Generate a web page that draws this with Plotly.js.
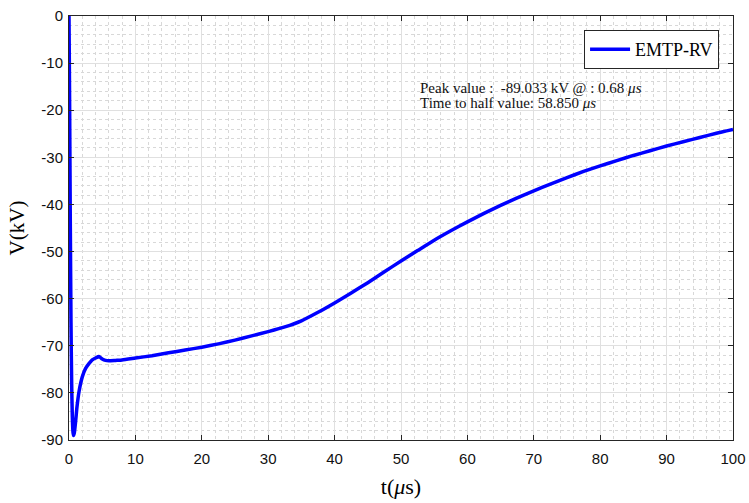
<!DOCTYPE html>
<html>
<head>
<meta charset="utf-8">
<script src="https://cdn.plot.ly/plotly-3.0.1.min.js"></script>
<style>html,body{margin:0;padding:0;background:#fff;}#chart{width:749px;height:503px;}</style>
</head>
<body>
<div id="chart"></div>
<script>
const timeUs = [0, 0.1, 0.2, 0.3, 0.4, 0.5, 0.6, 0.68, 0.8, 1.0, 1.2, 1.5, 2.0, 2.5, 3.0, 3.5, 4.0, 4.5, 5.0, 5.5, 6.0, 7.0, 8.0, 10, 12.5, 15, 17.5, 20, 22.5, 25, 27.5, 30, 32.5, 35, 37.5, 40, 42.5, 45, 47.5, 50, 52.5, 55, 57.5, 60, 62.5, 65, 67.5, 70, 72.5, 75, 77.5, 80, 82.5, 85, 87.5, 90, 92.5, 95, 97.5, 100];
const voltageKV = [0, -20, -45, -65, -78, -85, -88.3, -89.033, -88.5, -86, -83, -79.8, -76.6, -74.8, -73.8, -73.0, -72.6, -72.3, -72.8, -73.1, -73.2, -73.1, -73.0, -72.6, -72.1, -71.5, -70.9, -70.3, -69.6, -68.8, -67.9, -67.0, -66.0, -64.7, -62.9, -60.9, -58.8, -56.6, -54.3, -52.0, -49.8, -47.6, -45.6, -43.7, -41.9, -40.2, -38.6, -37.1, -35.7, -34.3, -33.0, -31.8, -30.7, -29.6, -28.6, -27.6, -26.7, -25.8, -24.9, -24.1];
const seriesName = 'EMTP-RV';
const xTicks = [0, 10, 20, 30, 40, 50, 60, 70, 80, 90, 100];
const yTicks = [-90, -80, -70, -60, -50, -40, -30, -20, -10, 0];
const noteLines = ['Peak value :  -89.033 kV @ : 0.68 <i>μs</i>', 'Time to half value: 58.850 <i>μs</i>'];

const serif = 'Liberation Serif, Times New Roman, serif';
const axisCommon = {
  showline: true, linecolor: '#262626', linewidth: 1, mirror: 'ticks',
  ticks: 'inside', ticklen: 5, tickcolor: '#262626', tickwidth: 1,
  showgrid: true, gridcolor: '#e0e0e0', gridwidth: 1,
  zeroline: false,
  tickfont: {family: 'Liberation Sans, Arial, sans-serif', size: 15, color: '#111'},
  minor: {dtick: 2, showgrid: true, gridcolor: '#d8d8d8', griddash: 'dot', gridwidth: 1, ticks: ''}
};

const data = [{
  x: timeUs, y: voltageKV, type: 'scatter', mode: 'lines', name: seriesName,
  line: {color: '#0000ff', width: 3.5, shape: 'spline', smoothing: 0.5}
}];

const layout = {
  width: 749, height: 503,
  margin: {l: 69, r: 16, t: 16, b: 63},
  paper_bgcolor: '#fff', plot_bgcolor: '#fff',
  showlegend: true,
  legend: {
    x: 0.979, y: 0.967, xanchor: 'right', yanchor: 'top',
    bgcolor: '#fff', bordercolor: '#262626', borderwidth: 1,
    font: {family: serif, size: 18, color: '#000'},
    itemwidth: 40
  },
  xaxis: Object.assign({}, axisCommon, {
    range: [0, 100], tickvals: xTicks, ticktext: xTicks.map(String), ticklabelstandoff: 5,
    title: {text: 't(<i>μ</i>s)', font: {family: serif, size: 22, color: '#000'}, standoff: 12}
  }),
  yaxis: Object.assign({}, axisCommon, {
    range: [-90, 0], tickvals: yTicks, ticktext: yTicks.map(String), ticklabelstandoff: 2,
    title: {text: 'V(kV)', font: {family: serif, size: 21, color: '#000'}, standoff: 10}
  }),
  annotations: [
    {xref: 'paper', yref: 'paper', x: (418 - 69) / 664, y: (440 - 88) / 424, xanchor: 'left', yanchor: 'middle',
     text: noteLines[0], showarrow: false, font: {family: serif, size: 15, color: '#111'}},
    {xref: 'paper', yref: 'paper', x: (418 - 69) / 664, y: (440 - 103) / 424, xanchor: 'left', yanchor: 'middle',
     text: noteLines[1], showarrow: false, font: {family: serif, size: 15, color: '#111'}}
  ]
};

Plotly.newPlot('chart', data, layout, {displayModeBar: false, staticPlot: true});
</script>
</body>
</html>
